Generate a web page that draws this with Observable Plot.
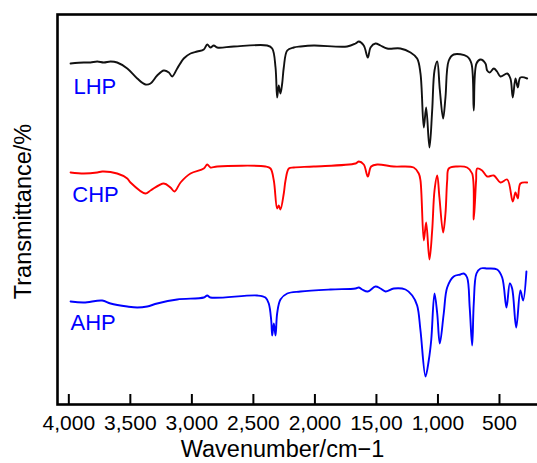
<!DOCTYPE html>
<html>
<head>
<meta charset="utf-8">
<script src="https://cdn.jsdelivr.net/npm/d3@7"></script>
<script src="https://cdn.jsdelivr.net/npm/@observablehq/plot@0.6"></script>
<style>
  html, body { margin: 0; padding: 0; background: white; }
  #chart { width: 537px; height: 463px; overflow: hidden; }
  #chart svg { overflow: hidden; }
</style>
</head>
<body>
<div id="chart"></div>
<script>
// Series names and label text
const seriesNames = ["LHP", "CHP", "AHP"];
const seriesColors = ["#111111", "#ff0000", "#0000ff"];

// x-axis ticks (wavenumber, cm-1) and their printed labels
const xTicks = [4000, 3500, 3000, 2500, 2000, 1500, 1000, 500];
const xTickLabels = ["4,000", "3,500", "3,000", "2,500", "2,000", "15,00", "1,000", "500"];

// LHP (black) — wavenumber / transmittance (arbitrary units, offset stacked)
const lhpWave = [3986, 3878, 3824, 3769, 3716, 3661, 3607, 3525, 3444, 3377, 3336, 3282, 3228, 3187, 3160, 3119, 3066, 3011, 2957, 2903, 2875, 2849, 2822, 2794, 2659, 2388, 2347, 2320, 2307, 2294, 2280, 2266, 2253, 2225, 2172, 2117, 2009, 1738, 1670, 1643, 1603, 1570, 1548, 1508, 1467, 1413, 1305, 1223, 1169, 1142, 1115, 1096, 1069, 1047, 1028, 1006, 985, 958, 939, 912, 872, 763, 728, 709, 687, 654, 614, 600, 579, 546, 520, 492, 437, 411, 392, 370, 351, 330, 275];
const lhpT    = [341, 342, 342, 343, 342, 343, 342, 336, 326, 320, 321, 329, 334, 332, 328, 336, 346, 351, 353, 355, 360, 357, 359, 357, 358, 359, 356, 337, 307, 319, 311, 321, 337, 354, 357, 358, 359, 358, 361, 363, 359, 347, 357, 361, 359, 356, 356, 352, 346, 331, 277, 297, 257, 294, 334, 343, 315, 286, 307, 344, 350, 348, 341, 294, 341, 345, 341, 334, 332, 336, 333, 328, 331, 326, 307, 326, 317, 327, 326];

// CHP (red)
const chpWave = [3986, 3878, 3769, 3729, 3607, 3525, 3499, 3377, 3336, 3228, 3174, 3141, 3092, 3011, 2903, 2875, 2849, 2794, 2402, 2361, 2334, 2307, 2294, 2280, 2253, 2239, 2212, 2172, 2009, 1670, 1643, 1603, 1570, 1543, 1494, 1359, 1197, 1156, 1142, 1115, 1096, 1069, 1047, 1028, 1006, 988, 958, 939, 925, 912, 844, 763, 722, 709, 690, 681, 641, 600, 546, 492, 437, 392, 370, 351, 330, 275];
const chpT    = [232, 231, 232, 233, 231, 226, 222, 211, 214, 221, 217, 213, 222, 231, 236, 240, 237, 238, 238, 236, 224, 196, 199, 195, 211, 224, 236, 237, 238, 241, 243, 240, 228, 238, 240, 238, 237, 231, 224, 164, 182, 145, 174, 214, 229, 207, 172, 191, 224, 236, 238, 237, 231, 185, 224, 236, 234, 228, 229, 222, 225, 203, 212, 206, 221, 222];

// AHP (blue)
const ahpWave = [3986, 3878, 3729, 3661, 3525, 3444, 3363, 3282, 3119, 2903, 2875, 2849, 2469, 2402, 2375, 2355, 2347, 2334, 2320, 2307, 2280, 2225, 2117, 1873, 1670, 1643, 1616, 1570, 1508, 1467, 1426, 1359, 1264, 1209, 1169, 1142, 1101, 1075, 1055, 1028, 1006, 985, 953, 925, 872, 817, 790, 763, 742, 722, 709, 687, 654, 600, 519, 478, 443, 416, 397, 364, 330, 308, 281];
const ahpT    = [103, 102, 104, 101, 98, 97, 98, 101, 105, 107, 109, 107, 109, 107, 101, 84, 69, 81, 69, 91, 105, 111, 113, 115, 116, 117, 115, 113, 118, 116, 113, 116, 115, 109, 99, 74, 28, 44, 64, 111, 91, 61, 91, 117, 128, 130, 131, 127, 97, 59, 101, 131, 136, 136, 135, 127, 97, 121, 116, 77, 114, 104, 133];

// Label anchor positions (wavenumber, transmittance) for series names
const labelWave = [3962, 3972, 3986];
const labelT = [318, 210, 82];

const waves = [lhpWave, chpWave, ahpWave];
const trans = [lhpT, chpT, ahpT];
const rows = seriesNames.flatMap((name, s) =>
  waves[s].map((w, i) => ({series: name, wave: w, t: trans[s][i]})));
const labels = seriesNames.map((name, i) => ({name, wave: labelWave[i], t: labelT[i]}));

const font = "'Liberation Sans', Arial, Helvetica, sans-serif";

const chart = Plot.plot({
  width: 537,
  height: 463,
  marginLeft: 57,
  marginRight: 0,
  marginTop: 14,
  marginBottom: 59,
  style: {fontFamily: font, background: "white", color: "black"},
  x: {domain: [4092, 191], axis: null},
  y: {domain: [0, 390], axis: null},
  color: {domain: seriesNames, range: seriesColors},
  marks: [
    Plot.line(rows, {x: "wave", y: "t", z: "series", stroke: "series", strokeWidth: 1.9, curve: "catmull-rom"}),
    Plot.tickX(xTicks, {x: d => d, insetTop: 380, stroke: "black", strokeWidth: 2}),
    Plot.axisX(xTicks, {tickSize: 0, tickPadding: 11, fontSize: 21, label: null,
      tickFormat: d => xTickLabels[xTicks.indexOf(d)]}),
    Plot.frame({stroke: "black", strokeWidth: 2.6, insetRight: -6}),
    Plot.text(labels, {x: "wave", y: "t", text: "name", fill: "#0000ff", fontSize: 22, textAnchor: "start", lineAnchor: "middle"}),
    Plot.text(["Wavenumber/cm−1"], {frameAnchor: "bottom", text: d => d, dx: -15, dy: 45, fontSize: 23.5, lineAnchor: "middle", textAnchor: "middle", fill: "black"}),
    Plot.text(["Transmittance/%"], {frameAnchor: "left", text: d => d, dx: -34, dy: 2, rotate: -90, fontSize: 23.5, lineAnchor: "middle", textAnchor: "middle", fill: "black"})
  ]
});
document.getElementById("chart").appendChild(chart);
</script>
</body>
</html>
